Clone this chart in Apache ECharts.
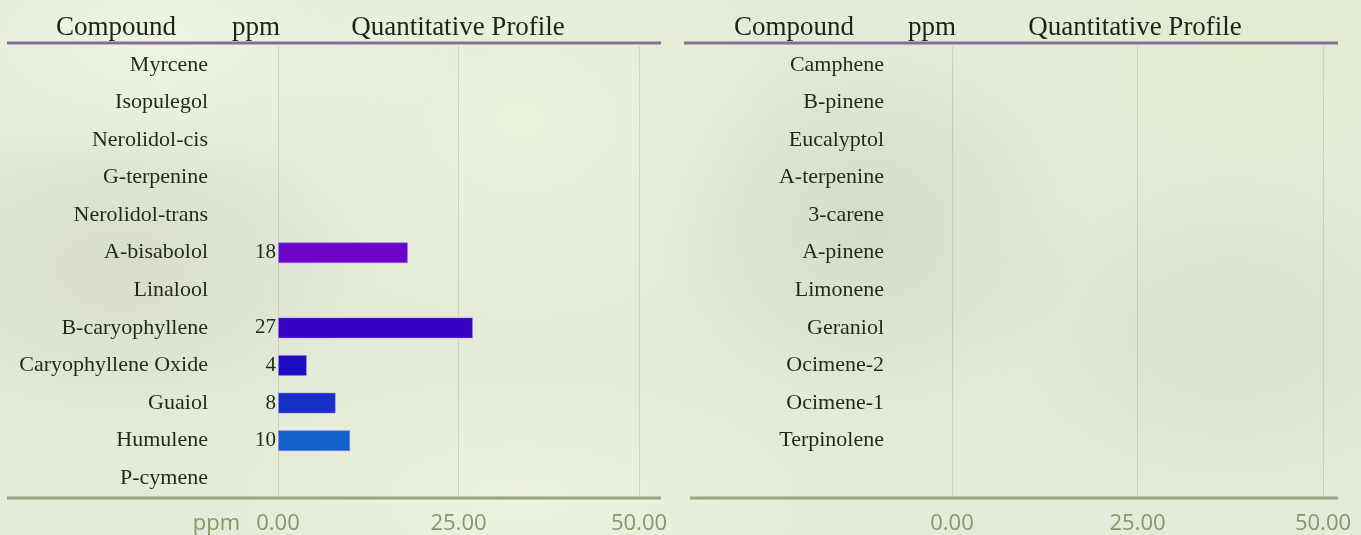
<!DOCTYPE html>
<html>
<head>
<meta charset="utf-8">
<script src="https://cdn.jsdelivr.net/npm/echarts@6/dist/echarts.min.js"></script>
<style>
html,body{margin:0;padding:0;width:1361px;height:535px;overflow:hidden;}
body{
  background:
    radial-gradient(ellipse 260px 160px at 120px 270px, rgba(214,218,205,0.9), rgba(214,218,205,0) 100%),
    radial-gradient(ellipse 220px 200px at 870px 230px, rgba(210,216,200,0.85), rgba(210,216,200,0) 100%),
    radial-gradient(ellipse 260px 180px at 1230px 330px, rgba(215,222,206,0.8), rgba(215,222,206,0) 100%),
    radial-gradient(ellipse 300px 140px at 160px 40px, rgba(240,245,230,0.9), rgba(240,245,230,0) 100%),
    radial-gradient(ellipse 260px 200px at 520px 120px, rgba(236,244,220,0.9), rgba(236,244,220,0) 100%),
    radial-gradient(ellipse 240px 160px at 1250px 60px, rgba(226,236,206,0.9), rgba(226,236,206,0) 100%),
    radial-gradient(ellipse 280px 120px at 520px 500px, rgba(238,244,222,0.9), rgba(238,244,222,0) 100%),
    #e4ebd8;
}
#chart{width:1361px;height:535px;}
</style>
</head>
<body>
<div id="chart"></div>
<script>
// ---- data ----
const leftCompounds = ["Myrcene","Isopulegol","Nerolidol-cis","G-terpenine","Nerolidol-trans","A-bisabolol","Linalool","B-caryophyllene","Caryophyllene Oxide","Guaiol","Humulene","P-cymene"];
const leftValues = [null,null,null,null,null,18,null,27,4,8,10,null];
const rightCompounds = ["Camphene","B-pinene","Eucalyptol","A-terpenine","3-carene","A-pinene","Limonene","Geraniol","Ocimene-2","Ocimene-1","Terpinolene",""];
const rightValues = [null,null,null,null,null,null,null,null,null,null,null,null];
const axisTicks = [0,25,50];
const headerLabels = ["Compound","ppm","Quantitative Profile"];
const axisUnit = "ppm";
// ---- styles ----
const barColors = {"A-bisabolol":"#6c06c6","B-caryophyllene":"#3800c2","Caryophyllene Oxide":"#1c0cc2","Guaiol":"#1830c6","Humulene":"#1260c8"};

const chart = echarts.init(document.getElementById('chart'), null, {renderer:'canvas'});
const serif = '"Liberation Serif","Times New Roman",serif';
const sans = '"Open Sans","Noto Sans",sans-serif';
const textCol = '#1f2a1a';
const tickCol = '#87966c';

function xAx(gi){
  return {
    type:'value', gridIndex:gi, min:axisTicks[0], max:axisTicks[axisTicks.length-1],
    interval:axisTicks[1]-axisTicks[0],
    axisLine:{show:false}, axisTick:{show:false},
    splitLine:{show:true, lineStyle:{color:'rgba(170,182,160,0.45)', width:1}},
    axisLabel:{color:tickCol, fontFamily:sans, fontSize:22, margin:16,
      formatter:v=>v.toFixed(2)}
  };
}
function yAx(gi, cats, margin){
  return {
    type:'category', gridIndex:gi, data:cats, inverse:true,
    axisLine:{show:false}, axisTick:{show:false}, splitLine:{show:false},
    axisLabel:{color:textCol, fontFamily:serif, fontSize:22, margin:margin, align:'right'}
  };
}
function series(gi, cats, vals){
  return {
    type:'bar', xAxisIndex:gi, yAxisIndex:gi, barWidth:21,
    data: vals.map((v,i)=>({value: v==null?'-':v,
      itemStyle:{color: barColors[cats[i]] || '#3800c2', borderColor:'rgba(150,120,255,0.5)', borderWidth:1}})),
    label:{show:true, position:'left', distance:2, color:textCol, fontFamily:serif, fontSize:21,
      formatter:p=> (p.value==='-'||p.value==null)?'':String(p.value)},
    silent:true
  };
}

const headerY = 41;
function header(xs){
  return headerLabels.map((t,i)=>({
    type:'text', x:xs[i], y:headerY,
    style:{text:t, fill:'#1a2517', font:'27px '+serif, textAlign:'center', textVerticalAlign:'bottom'}
  }));
}

chart.setOption({
  backgroundColor:'transparent',
  animation:false,
  grid:[
    {left:278, right:722, top:46, bottom:37},
    {left:952, right:38, top:46, bottom:37}
  ],
  xAxis:[xAx(0), xAx(1)],
  yAxis:[yAx(0,leftCompounds,70), yAx(1,rightCompounds,68)],
  series:[series(0,leftCompounds,leftValues), series(1,rightCompounds,rightValues)],
  graphic:[
    ...header([116,256,458]),
    ...header([794,932,1135]),
    {type:'line', shape:{x1:7,y1:43,x2:661,y2:43}, style:{stroke:'#8a6c98', lineWidth:3}},
    {type:'line', shape:{x1:684,y1:43,x2:1338,y2:43}, style:{stroke:'#8a6c98', lineWidth:3}},
    {type:'line', shape:{x1:7,y1:498,x2:661,y2:498}, style:{stroke:'#98a482', lineWidth:3}},
    {type:'line', shape:{x1:690,y1:498,x2:1338,y2:498}, style:{stroke:'#98a482', lineWidth:3}},
    {type:'text', x:240, y:524, style:{text:axisUnit, fill:tickCol, font:'22px '+sans, textAlign:'right', textVerticalAlign:'middle'}}
  ]
});
</script>
</body>
</html>
